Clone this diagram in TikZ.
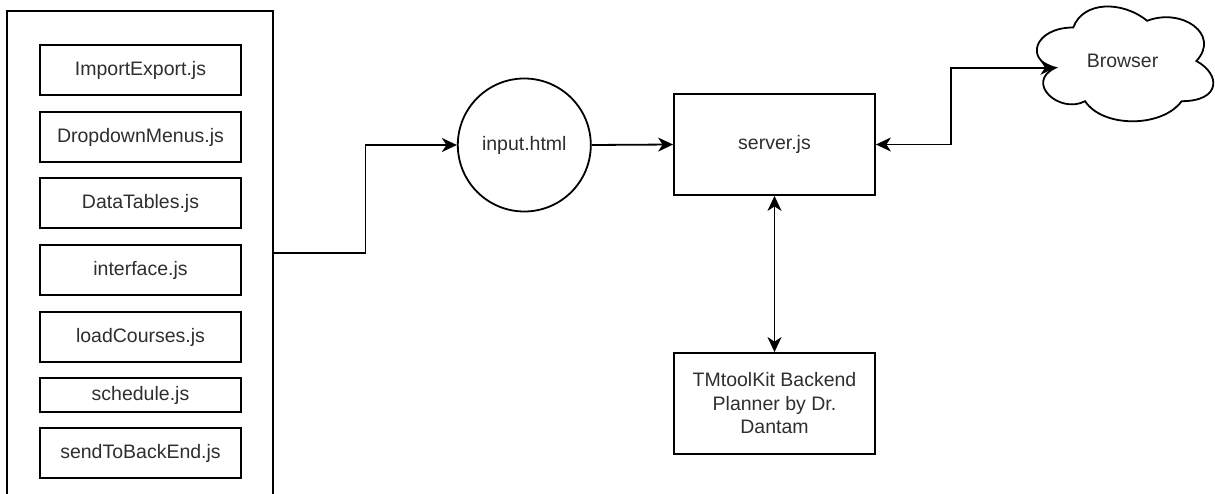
\documentclass[tikz,border=0pt]{standalone}
\usepackage{fontspec}
\setmainfont{Liberation Sans}
\usetikzlibrary{arrows.meta,calc}
\definecolor{txt}{HTML}{2E2E2E}

\begin{document}
\begin{tikzpicture}[x=1pt,y=-1pt,line width=1.8pt,
  lbl/.style={text=txt,font=\fontsize{19.5}{23.5}\selectfont},
  filebox/.style={draw,lbl,minimum width=201pt,inner sep=0pt},
  bigbox/.style={draw,lbl,minimum width=201pt,minimum height=101pt,inner sep=0pt,align=center},
  group/.style={draw,minimum width=266pt,minimum height=484pt,inner sep=0pt},
  arr/.style={-{Stealth[length=15pt,width=14pt,inset=4.5pt]}},
  darr/.style={{Stealth[length=15pt,width=14pt,inset=4.5pt]}-{Stealth[length=15pt,width=14pt,inset=4.5pt]}}]
\useasboundingbox (0,0) rectangle (1215,494);
\clip (0,0) rectangle (1215,494);

% container holding the client-side scripts
\node[group] (group) at (140,253) {};
\node[filebox,minimum height=50pt] (imp)  at (140.5,70)  {ImportExport.js};
\node[filebox,minimum height=50pt] (drop) at (140.5,137) {DropdownMenus.js};
\node[filebox,minimum height=50pt] (dt)   at (140.5,203) {DataTables.js};
\node[filebox,minimum height=50pt] (intf) at (140.5,270) {interface.js};
\node[filebox,minimum height=50pt] (load) at (140.5,337) {loadCourses.js};
\node[filebox,minimum height=34pt] (sch)  at (140.5,395) {schedule.js};
\node[filebox,minimum height=50pt] (send) at (140.5,453) {sendToBackEnd.js};

% page, server and planner
\node[draw,lbl,circle,minimum size=133pt,inner sep=0pt] (input) at (524.3,145) {input.html};
\node[bigbox] (server)  at (774.5,144.5) {server.js};
\node[bigbox] (backend) at (774.5,403.5) {TMtoolKit Backend\\Planner by Dr.\\Dantam};

% browser cloud
\node[lbl,minimum width=197pt,minimum height=134pt,inner sep=0pt,outer sep=0pt] (browser) at (1122.5,61) {Browser};
\begin{scope}[shift={(browser.north west)},x=197pt,y=-134pt]
  \draw (0.25,0.25) .. controls (0.05,0.25) and (0,0.5) .. (0.16,0.55)
        .. controls (0,0.66) and (0.18,0.9) .. (0.31,0.8)
        .. controls (0.4,1) and (0.7,1) .. (0.8,0.8)
        .. controls (1,0.8) and (1,0.6) .. (0.875,0.5)
        .. controls (1,0.3) and (0.8,0.1) .. (0.625,0.2)
        .. controls (0.5,0.05) and (0.3,0.05) .. (0.25,0.25) -- cycle;
  \coordinate (browserin) at (0.16,0.55);
\end{scope}

% connectors
\draw[arr] (group.east) -| ($(group.east)!.5!(input.west)$) |- (input.west);
\draw[arr] (input.east) -- (server.west);
\draw[darr] (server.south) -- (backend.north);
\draw[darr] (server.east) -- ++(75,0) |- (browserin);
\end{tikzpicture}
\end{document}
